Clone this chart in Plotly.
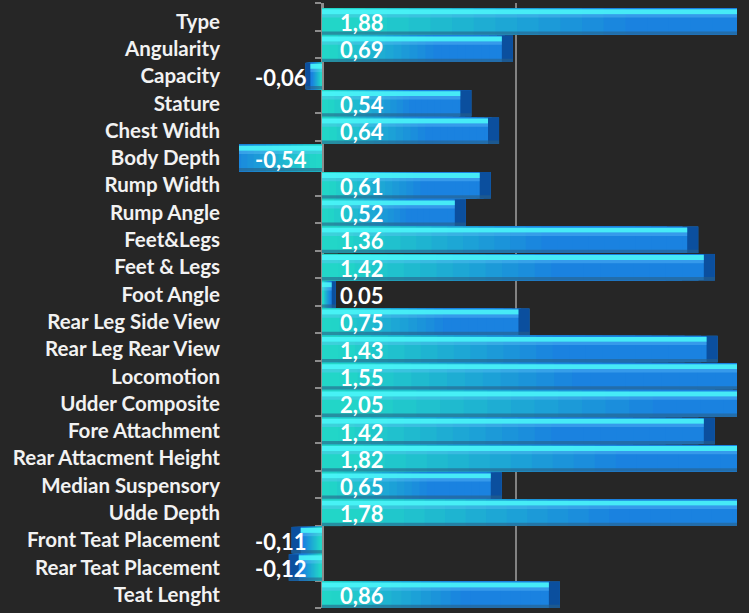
import plotly.graph_objects as go

categories = ["Type", "Angularity", "Capacity", "Stature", "Chest Width", "Body Depth",
              "Rump Width", "Rump Angle", "Feet&Legs", "Feet & Legs", "Foot Angle",
              "Rear Leg Side View", "Rear Leg Rear View", "Locomotion", "Udder Composite",
              "Fore Attachment", "Rear Attacment Height", "Median Suspensory", "Udde Depth",
              "Front Teat Placement", "Rear Teat Placement", "Teat Lenght"]
values = [1.88, 0.69, -0.06, 0.54, 0.64, -0.54, 0.61, 0.52, 1.36, 1.42, 0.05,
          0.75, 1.43, 1.55, 2.05, 1.42, 1.82, 0.65, 1.78, -0.11, -0.12, 0.86]

x_min, x_max = -0.3, 1.5
bg = "#262626"
fnt = "Lato"

def lerp(c1, c2, t):
    return "rgb({},{},{})".format(*[int(a + (b - a) * t) for a, b in zip(c1, c2)])

blue = (26, 130, 224)
teal = (34, 214, 200)

fig = go.Figure()

# horizontal gradient: stacked shorter layers towards the base
n = 24
for k in range(n):
    f = 1 - k / n
    p = f - 0.5 / n
    t = max(0, min(1, (0.6 - p) / 0.55))
    fig.add_trace(go.Bar(
        y=categories, x=[v * f for v in values], orientation="h",
        marker=dict(color=lerp(blue, teal, t), line=dict(width=0)),
        width=0.97, offset=-0.45, hoverinfo="skip", showlegend=False))

# bevel at the bar end
bev = [min(0.04, abs(v) * 0.3) * (1 if v > 0 else -1) for v in values]
body = [v - b for v, b in zip(values, bev)]
fig.add_trace(go.Bar(
    y=categories, x=bev, base=body, orientation="h",
    marker=dict(color="#0b4f9e", line=dict(width=0)),
    width=0.97, offset=-0.45, hoverinfo="skip", showlegend=False))

# top highlight
fig.add_trace(go.Bar(
    y=categories, x=body, orientation="h",
    marker=dict(color="rgba(75,245,250,0.9)", line=dict(width=0)),
    width=0.18, offset=-0.41, hoverinfo="skip", showlegend=False))
fig.add_trace(go.Bar(
    y=categories, x=body, orientation="h",
    marker=dict(color="rgba(110,200,255,0.35)", line=dict(width=0)),
    width=0.12, offset=-0.23, hoverinfo="skip", showlegend=False))

# bottom shade
fig.add_trace(go.Bar(
    y=categories, x=values, orientation="h",
    marker=dict(color="rgba(40,95,135,0.6)", line=dict(width=0)),
    width=0.12, offset=0.40, hoverinfo="skip", showlegend=False))

n_cat = len(categories)
fig.update_layout(
    width=749, height=613,
    margin=dict(l=239, r=12, t=3, b=5),
    paper_bgcolor=bg, plot_bgcolor=bg,
    barmode="overlay",
    xaxis=dict(range=[x_min, x_max], tick0=x_min, dtick=1, showticklabels=False,
               showgrid=True, gridcolor="#828282", gridwidth=2, zeroline=False,
               showline=False, ticks="", automargin=False),
    yaxis=dict(autorange="reversed", showgrid=False, zeroline=False, showline=False,
               ticks="", ticklabelstandoff=18, ticklabelshift=-1, automargin=False,
               tickfont=dict(family=fnt, size=20.5, color="#f2f2f2", weight="bold")),
    yaxis2=dict(overlaying="y", anchor="free", automargin=False,
                position=(0 - x_min) / (x_max - x_min),
                range=[n_cat - 0.5, -0.5], tickvals=[i - 0.5 for i in range(n_cat + 1)],
                showticklabels=False, ticks="outside", ticklen=6, tickwidth=2,
                tickcolor="#8c8c8c", showline=True, linecolor="#8c8c8c", linewidth=3,
                showgrid=False, zeroline=False, layer="below traces"),
)
# invisible trace so yaxis2 is drawn
fig.add_trace(go.Scatter(x=[0], y=[0], yaxis="y2", mode="markers",
                         marker=dict(opacity=0), hoverinfo="skip", showlegend=False))

# value labels next to the zero line
for c, v in zip(categories, values):
    fig.add_annotation(
        x=0, y=c, text=f"{v:.2f}".replace(".", ","), showarrow=False,
        xanchor="left" if v > 0 else "right", xshift=16 if v > 0 else -13, yshift=-2,
        font=dict(family=fnt, size=22, color="white", weight="bold"))

fig.write_html("out.html", config={"displayModeBar": False},
               post_script="document.body.style.margin='0';")
